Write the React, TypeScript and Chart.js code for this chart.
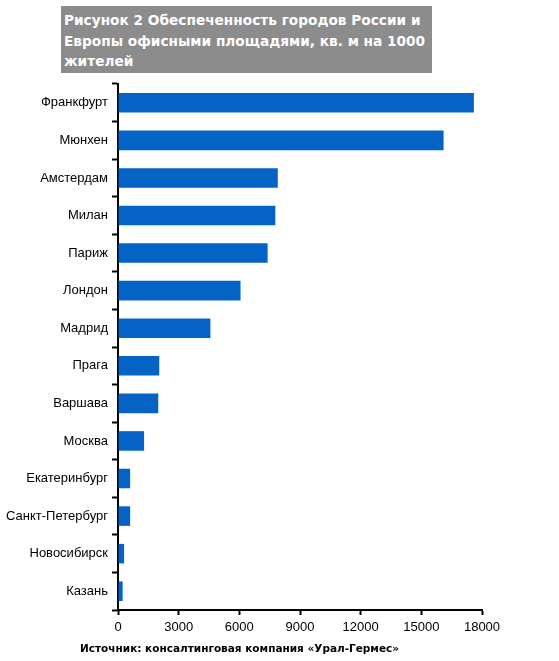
import React, { useEffect, useRef } from "react";
import { Chart, registerables } from "chart.js";

Chart.register(...registerables);

const cities = [
  "Франкфурт",
  "Мюнхен",
  "Амстердам",
  "Милан",
  "Париж",
  "Лондон",
  "Мадрид",
  "Прага",
  "Варшава",
  "Москва",
  "Екатеринбург",
  "Санкт-Петербург",
  "Новосибирск",
  "Казань",
];

const officeSpace = [17600, 16100, 7900, 7780, 7400, 6060, 4570, 2040, 1990, 1290, 600, 600, 300, 230];

const xMin = 0;
const xMax = 18000;
const xStep = 3000;

const titleText = "Рисунок 2 Обеспеченность городов России и Европы офисными площадями, кв. м на 1000 жителей";
const sourceText = "Источник: консалтинговая компания «Урал-Гермес»";

export default function App() {
  const canvasRef = useRef<HTMLCanvasElement | null>(null);

  useEffect(() => {
    if (!canvasRef.current) return;
    const chart = new Chart(canvasRef.current, {
      type: "bar",
      data: {
        labels: cities,
        datasets: [
          {
            data: officeSpace,
            backgroundColor: "#0563c6",
            borderWidth: 0,
            barPercentage: 0.52,
            categoryPercentage: 1,
          },
        ],
      },
      options: {
        indexAxis: "y",
        animation: false,
        responsive: false,
        maintainAspectRatio: false,
        devicePixelRatio: 1,
        layout: { padding: { top: 84, right: 77, bottom: 21, left: 0 } },
        plugins: {
          legend: { display: false },
          tooltip: { enabled: false },
          title: { display: false },
        },
        scales: {
          x: {
            min: xMin,
            max: xMax,
            ticks: {
              stepSize: xStep,
              color: "#000",
              padding: 5,
              font: { family: "'Liberation Sans', Arial, sans-serif", size: 13 },
              maxRotation: 0,
              callback: (v: any) => String(v),
            },
            grid: {
              drawOnChartArea: false,
              drawTicks: true,
              tickLength: 5,
              tickColor: "#000",
              tickWidth: 2,
            },
            border: { display: true, color: "#000", width: 2 },
            afterFit: (scale: any) => {
              scale.height = 30;
            },
          },
          y: {
            ticks: {
              color: "#000",
              padding: 4,
              font: { family: "'Liberation Sans', Arial, sans-serif", size: 13 },
            },
            grid: {
              offset: true,
              drawOnChartArea: false,
              drawTicks: true,
              tickLength: 6,
              tickColor: "#000",
              tickWidth: 2,
            },
            border: { display: true, color: "#000", width: 2 },
            afterFit: (scale: any) => {
              scale.width = 118;
            },
          },
        },
      },
    });
    return () => chart.destroy();
  }, []);

  return (
    <div style={{ position: "fixed", left: 0, top: 0, width: 559, height: 661, background: "#fff" }}>
      <canvas ref={canvasRef} width={559} height={661} style={{ position: "absolute", left: 0, top: 0 }} />
      <div
        style={{
          position: "absolute",
          left: 61,
          top: 6,
          width: 368,
          height: 63,
          padding: "4px 0 0 3px",
          background: "#8c8c8c",
          color: "#fff",
          fontFamily: "'DejaVu Sans', Verdana, sans-serif",
          fontWeight: "bold",
          fontSize: 13.7,
          lineHeight: "20.5px",
        }}
      >
        {titleText}
      </div>
      <div
        style={{
          position: "absolute",
          left: 80,
          top: 642,
          fontFamily: "'DejaVu Sans', Verdana, sans-serif",
          fontWeight: "bold",
          fontSize: 10.5,
          color: "#000",
          whiteSpace: "nowrap",
        }}
      >
        {sourceText}
      </div>
    </div>
  );
}
